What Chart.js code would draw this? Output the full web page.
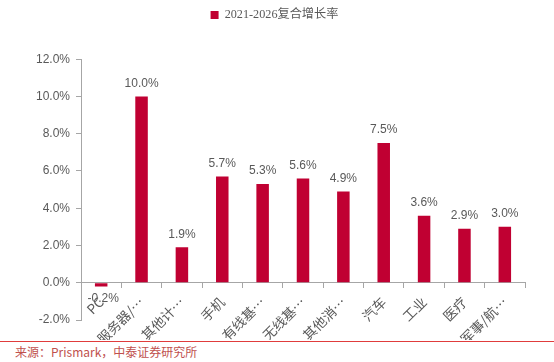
<!DOCTYPE html>
<html>
<head>
<meta charset="utf-8">
<script src="https://cdn.jsdelivr.net/npm/chart.js@4"></script>
<style>
html,body{margin:0;padding:0;background:#fff;}
#wrap{width:554px;height:362px;position:relative;overflow:hidden;}
#c{display:block;}
#src{position:absolute;left:0;top:341px;width:554px;border-top:1px solid #e03c3c;font:12px "Noto Sans CJK SC","Noto Sans",sans-serif;color:#c0504d;padding-left:15px;box-sizing:border-box;line-height:20px;}
</style>
</head>
<body>
<div id="wrap">
<canvas id="c" width="554" height="340"></canvas>
<div id="src">来源：Prismark，中泰证券研究所</div>
</div>
<script>
const categories = ["PC","服务器/数据存储","其他计算机","手机","有线基础设施","无线基础设施","其他消费电子","汽车","工业","医疗","军事/航空航天"];
const tickLabels = ["PC","服务器/…","其他计…","手机","有线基…","无线基…","其他消…","汽车","工业","医疗","军事/航…"];
const seriesName = "2021-2026复合增长率";
const values = [-0.2, 10.0, 1.9, 5.7, 5.3, 5.6, 4.9, 7.5, 3.6, 2.9, 3.0];
const yTicks = [-2, 0, 2, 4, 6, 8, 10, 12];

const valueLabels = {
  id: 'valueLabels',
  afterDatasetsDraw(chart) {
    const ctx = chart.ctx;
    const meta = chart.getDatasetMeta(0);
    ctx.save();
    ctx.font = '12px "Liberation Sans", Arial, sans-serif';
    ctx.fillStyle = '#595959';
    ctx.textAlign = 'center';
    meta.data.forEach((bar, i) => {
      const v = values[i];
      const txt = v.toFixed(1) + '%';
      if (v >= 0) {
        ctx.textBaseline = 'bottom';
        ctx.fillText(txt, bar.x, bar.y - 7);
      } else {
        ctx.textBaseline = 'top';
        ctx.fillText(txt, bar.x + 2, bar.y + 6);
      }
    });
    ctx.restore();
  }
};

const legendSpace = {
  id: 'legendSpace',
  beforeLayout(chart) {
    const lg = chart.legend;
    if (lg && !lg._patched) {
      lg._patched = true;
      const origFit = lg.fit;
      lg.fit = function () { origFit.apply(this, arguments); this.height += 28; };
    }
  },
  afterLayout(chart) {
    const lg = chart.legend;
    if (lg) { lg.left += 12; lg.right += 12; }
  }
};

new Chart(document.getElementById('c'), {
  type: 'bar',
  data: {
    labels: categories,
    datasets: [{
      label: seriesName,
      data: values,
      backgroundColor: '#C00032',
      barPercentage: 0.62,
      categoryPercentage: 0.5
    }]
  },
  options: {
    responsive: false,
    animation: false,
    layout: { padding: { left: 0, right: 29, top: 3, bottom: 20 } },
    plugins: {
      legend: {
        position: 'top',
        labels: {
          boxWidth: 8, boxHeight: 8, padding: 6,
          color: '#595959',
          font: { family: '"Liberation Serif","Noto Sans CJK SC",serif', size: 12.2 }
        }
      },
      tooltip: { enabled: false }
    },
    scales: {
      x: {
        position: { y: 0 },
        grid: { drawOnChartArea: false, drawTicks: true, tickLength: 5, color: '#a6a6a6', offset: true },
        border: { color: '#a6a6a6' },
        ticks: {
          color: '#595959',
          minRotation: 45, maxRotation: 45,
          autoSkip: false,
          padding: 6,
          font: { family: '"Noto Sans CJK SC",sans-serif', size: 13.5 },
          callback: (v, i) => tickLabels[i]
        }
      },
      y: {
        min: -2, max: 12,
        afterFit(s) { s.width = 81; },
        afterBuildTicks(s) { s.ticks = yTicks.map(v => ({ value: v })); },
        grid: { drawOnChartArea: false, drawTicks: true, tickLength: 5, color: '#a6a6a6' },
        border: { color: '#a6a6a6' },
        ticks: {
          color: '#595959',
          padding: 6,
          font: { family: '"Liberation Sans", Arial, sans-serif', size: 12 },
          callback: v => v.toFixed(1) + '%'
        }
      }
    }
  },
  plugins: [valueLabels, legendSpace]
});
</script>
</body>
</html>
